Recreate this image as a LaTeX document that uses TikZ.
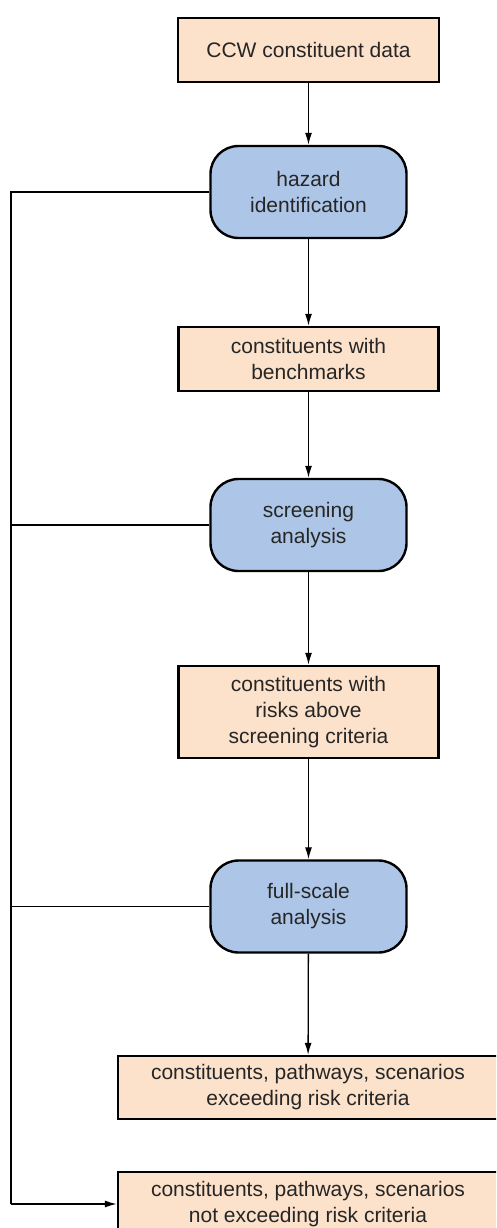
\documentclass[tikz,border=0pt]{standalone}
\usepackage{fontspec}
\setmainfont{Liberation Sans}
\usetikzlibrary{arrows.meta}
\definecolor{peach}{HTML}{FCE1CB}
\definecolor{skyblue}{HTML}{ADC6E7}
\definecolor{txt}{HTML}{262626}
\begin{document}
\begin{tikzpicture}[x=1pt,y=-1pt,
  base/.style={draw=black,line width=2.4pt,inner sep=0pt,align=center,text=txt,
    font=\fontsize{21}{26}\selectfont},
  databox/.style={base,fill=peach},
  procbox/.style={base,fill=skyblue,rounded corners=28pt,minimum width=196pt,minimum height=92pt},
  conn/.style={line width=1.3pt,-{Latex[length=12pt,width=7pt]}},
  link/.style={line width=1.3pt}]
\useasboundingbox (0,0) rectangle (496,1228);
\clip (0,0) rectangle (496,1228);
\fill[white] (0,0) rectangle (496,1228);
\node[databox,minimum width=261pt,minimum height=64pt] (b1) at (308.5,50) {CCW constituent data};
\node[procbox] (h1) at (308.5,192) {hazard\\identification};
\node[databox,minimum width=260pt,minimum height=64pt] (b2) at (308.5,359) {constituents with\\benchmarks};
\node[procbox] (h2) at (308.5,525) {screening\\analysis};
\node[databox,minimum width=260pt,minimum height=92pt] (b3) at (308.5,712) {constituents with\\risks above\\screening criteria};
\node[procbox] (h3) at (308.5,906.5) {full-scale\\analysis};
\node[databox,minimum width=380pt,minimum height=63pt] (b4) at (308,1087.5) {constituents, pathways, scenarios\\exceeding risk criteria};
\node[databox,minimum width=380pt,minimum height=64pt] (b5) at (308,1204) {constituents, pathways, scenarios\\not exceeding risk criteria};
\coordinate (corner) at (11,1204);
\draw[conn] (b1) -- (h1);
\draw[conn] (h1) -- (b2);
\draw[conn] (b2) -- (h2);
\draw[conn] (h2) -- (b3);
\draw[conn] (b3) -- (h3);
\draw[conn] (h3) -- (b4);
\draw[link] (h1.west) -- (h1.west -| corner) -- (corner);
\draw[link] (h2.west) -- (h2.west -| corner);
\draw[link] (h3.west) -- (h3.west -| corner);
\draw[conn] (corner) -- (b5.west);
\end{tikzpicture}
\end{document}
